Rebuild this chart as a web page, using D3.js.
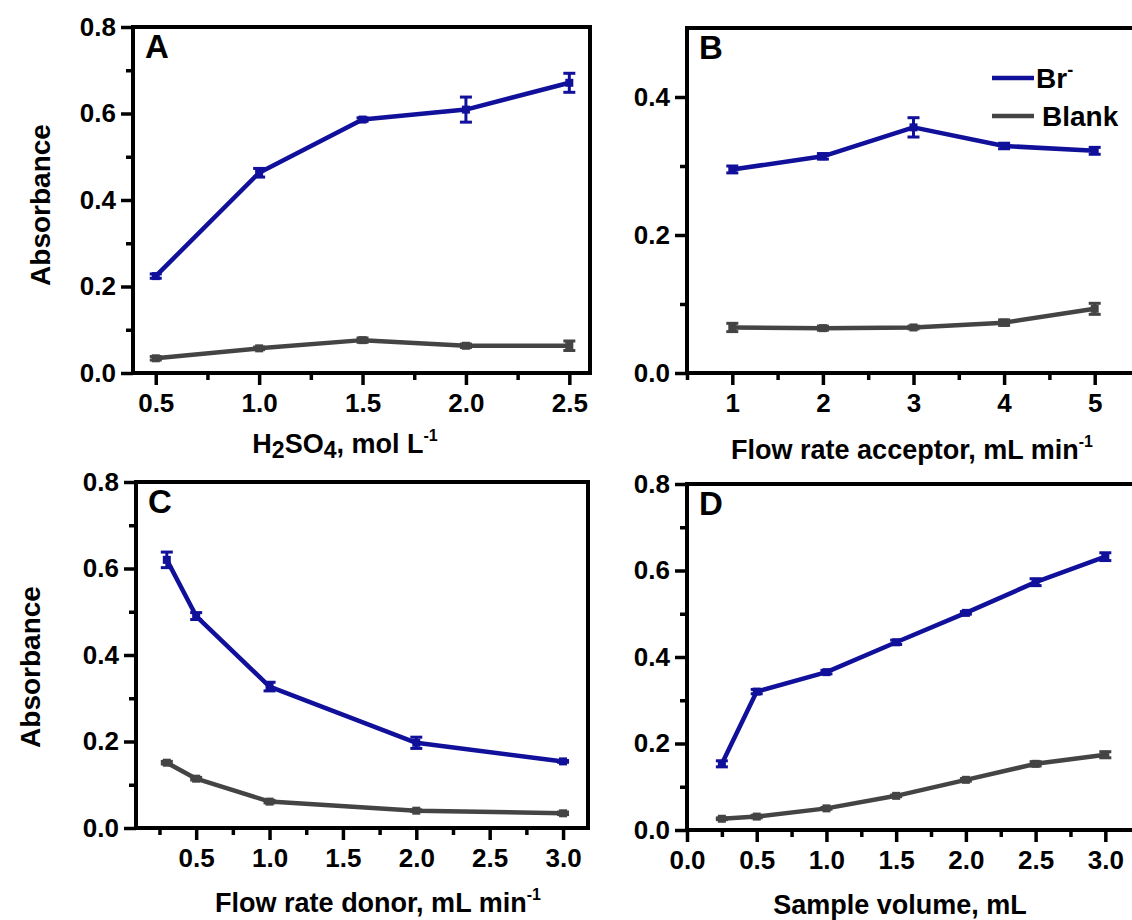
<!DOCTYPE html>
<html>
<head>
<meta charset="utf-8">
<script src="https://cdn.jsdelivr.net/npm/d3@7"></script>
<style>
  html, body { margin: 0; padding: 0; background: #fff; }
  svg { display: block; font-family: "Liberation Sans", Arial, sans-serif; font-weight: bold; }
  svg text { font-family: "Liberation Sans", Arial, sans-serif; font-weight: bold; }
</style>
</head>
<body>
<div id="chart"></div>
<script>
// ---- data ----
// A: H2SO4 concentration
const xA = [0.5, 1.0, 1.5, 2.0, 2.5];
const brA = [0.224, 0.463, 0.586, 0.609, 0.671];
const brAErr = [0.005, 0.010, 0.004, 0.029, 0.022];
const blankA = [0.034, 0.057, 0.076, 0.063, 0.063];
const blankAErr = [0.004, 0.003, 0.005, 0.004, 0.011];

// B: acceptor flow rate
const xB = [1, 2, 3, 4, 5];
const brB = [0.295, 0.314, 0.356, 0.329, 0.322];
const brBErr = [0.005, 0.004, 0.014, 0.004, 0.005];
const blankB = [0.066, 0.065, 0.066, 0.073, 0.093];
const blankBErr = [0.006, 0.003, 0.002, 0.004, 0.008];

// C: donor flow rate
const xC = [0.3, 0.5, 1.0, 2.0, 3.0];
const brC = [0.620, 0.490, 0.327, 0.197, 0.154];
const brCErr = [0.018, 0.008, 0.010, 0.013, 0.002];
const blankC = [0.151, 0.114, 0.061, 0.040, 0.034];
const blankCErr = [0.003, 0.003, 0.003, 0.002, 0.003];

// D: sample volume
const xD = [0.25, 0.5, 1.0, 1.5, 2.0, 2.5, 3.0];
const brD = [0.153, 0.320, 0.365, 0.434, 0.502, 0.573, 0.632];
const brDErr = [0.007, 0.005, 0.004, 0.005, 0.003, 0.008, 0.009];
const blankD = [0.026, 0.031, 0.050, 0.079, 0.116, 0.153, 0.174];
const blankDErr = [0.002, 0.003, 0.002, 0.002, 0.003, 0.005, 0.007];

const BLUE = '#10109a', GREY = '#444444';

const svg = d3.select('#chart').append('svg')
  .attr('width', 1132).attr('height', 920);

const panels = [
  { x0: 133, x1: 590, y0: 27, y1: 373, xd: [0.39, 2.6], yd: [0, 0.8],
    xMajor: [0.5, 1, 1.5, 2, 2.5], xMinor: [0.75, 1.25, 1.75, 2.25], xFmt: '.1f',
    yMajor: [0, 0.2, 0.4, 0.6, 0.8], yMinor: [0.1, 0.3, 0.5, 0.7],
    xs: xA, br: brA, brE: brAErr, bl: blankA, blE: blankAErr,
    title: 'A', ylab: { x: 40, y: 205 }, xlab: { x: 345, y: 453 } },
  { x0: 687, x1: 1140, y0: 28, y1: 373, xd: [0.5, 5.5], yd: [0, 0.5],
    xMajor: [1, 2, 3, 4, 5], xMinor: [0.5, 1.5, 2.5, 3.5, 4.5], xFmt: 'd',
    yMajor: [0, 0.2, 0.4], yMinor: [0.1, 0.3],
    xs: xB, br: brB, brE: brBErr, bl: blankB, blE: blankBErr,
    title: 'B', legend: true, xlab: { x: 912, y: 459 } },
  { x0: 136, x1: 588, y0: 482, y1: 828, xd: [0.09, 3.17], yd: [0, 0.8],
    xMajor: [0.5, 1, 1.5, 2, 2.5, 3], xMinor: [0.25, 0.75, 1.25, 1.75, 2.25, 2.75], xFmt: '.1f',
    yMajor: [0, 0.2, 0.4, 0.6, 0.8], yMinor: [0.1, 0.3, 0.5, 0.7],
    xs: xC, br: brC, brE: brCErr, bl: blankC, blE: blankCErr,
    title: 'C', ylab: { x: 30, y: 667 }, xlab: { x: 378, y: 912 } },
  { x0: 687, x1: 1136, y0: 484, y1: 830, xd: [0, 3.22], yd: [0, 0.8],
    xMajor: [0, 0.5, 1, 1.5, 2, 2.5, 3], xMinor: [0.25, 0.75, 1.25, 1.75, 2.25, 2.75], xFmt: '.1f',
    yMajor: [0, 0.2, 0.4, 0.6, 0.8], yMinor: [0.1, 0.3, 0.5, 0.7],
    xs: xD, br: brD, brE: brDErr, bl: blankD, blE: blankDErr,
    title: 'D', xlab: { x: 900, y: 914 } }
];

panels.forEach(p => {
  const x = d3.scaleLinear().domain(p.xd).range([p.x0, p.x1]);
  const y = d3.scaleLinear().domain(p.yd).range([p.y1, p.y0]);
  const g = svg.append('g');

  // axes: major + minor ticks, outward
  const styleAxis = sel => {
    sel.attr('font-family', null).attr('font-size', null);
    sel.select('.domain').remove();
    sel.selectAll('.tick line').attr('stroke', '#000').style('stroke-width', '3.5px');
    sel.selectAll('.tick text').attr('fill', '#000').style('font-size', '26px');
  };
  g.append('g').attr('transform', `translate(0,${p.y1})`)
    .call(d3.axisBottom(x).tickValues(p.xMajor).tickSize(12).tickPadding(9).tickFormat(d3.format(p.xFmt)))
    .call(styleAxis);
  g.append('g').attr('transform', `translate(0,${p.y1})`)
    .call(d3.axisBottom(x).tickValues(p.xMinor).tickSize(7).tickFormat(''))
    .call(styleAxis);
  g.append('g').attr('transform', `translate(${p.x0},0)`)
    .call(d3.axisLeft(y).tickValues(p.yMajor).tickSize(12).tickPadding(5).tickFormat(d3.format('.1f')))
    .call(styleAxis);
  g.append('g').attr('transform', `translate(${p.x0},0)`)
    .call(d3.axisLeft(y).tickValues(p.yMinor).tickSize(7).tickFormat(''))
    .call(styleAxis);

  // frame
  g.append('rect')
    .attr('x', p.x0).attr('y', p.y0)
    .attr('width', p.x1 - p.x0).attr('height', p.y1 - p.y0)
    .attr('fill', 'none').attr('stroke', '#000').attr('stroke-width', 4);

  // series
  const line = d3.line().x(d => x(d[0])).y(d => y(d[1]));
  [[p.bl, p.blE, GREY], [p.br, p.brE, BLUE]].forEach(([vals, errs, col]) => {
    const pts = p.xs.map((xv, i) => [xv, vals[i], errs[i]]);
    g.append('path').datum(pts)
      .attr('d', line).attr('fill', 'none')
      .attr('stroke', col).attr('stroke-width', 4.5).attr('stroke-linejoin', 'round');
    const eb = g.append('g').selectAll('g').data(pts).enter().append('g')
      .attr('stroke', col).attr('stroke-width', 3);
    eb.append('line')
      .attr('x1', d => x(d[0])).attr('x2', d => x(d[0]))
      .attr('y1', d => y(d[1] - d[2])).attr('y2', d => y(d[1] + d[2]));
    eb.append('line')
      .attr('x1', d => x(d[0]) - 6).attr('x2', d => x(d[0]) + 6)
      .attr('y1', d => y(d[1] + d[2])).attr('y2', d => y(d[1] + d[2]));
    eb.append('line')
      .attr('x1', d => x(d[0]) - 6).attr('x2', d => x(d[0]) + 6)
      .attr('y1', d => y(d[1] - d[2])).attr('y2', d => y(d[1] - d[2]));
    g.append('g').selectAll('rect').data(pts).enter().append('rect')
      .attr('x', d => x(d[0]) - 4).attr('y', d => y(d[1]) - 4)
      .attr('width', 8).attr('height', 8).attr('fill', col);
  });

  // panel letter
  g.append('text').attr('x', p.x0 + 12).attr('y', p.y0 + 31)
    .style('font-size', '33px').text(p.title);

  // y label
  if (p.ylab) {
    g.append('text')
      .attr('transform', `translate(${p.ylab.x},${p.ylab.y}) rotate(-90)`)
      .attr('text-anchor', 'middle').attr('dy', '0.35em')
      .style('font-size', '28px').text('Absorbance');
  }

  // legend
  if (p.legend) {
    const lg = g.append('g').attr('transform', 'translate(992,78)');
    [['Br', BLUE, 0], ['Blank', GREY, 38]].forEach(([lab, col, dy], i) => {
      lg.append('line').attr('x1', 0).attr('x2', 42).attr('y1', dy).attr('y2', dy)
        .attr('stroke', col).attr('stroke-width', 4.5);
      const t = lg.append('text').attr('x', i ? 50 : 44).attr('y', dy + 10)
        .style('font-size', '28px').text(lab);
      if (!i) t.append('tspan').attr('dy', -12).style('font-size', '18px').text('-');
    });
  }
});

// x-axis titles with sub/superscripts
const xt = (cx, cy) => svg.append('text').attr('x', cx).attr('y', cy)
  .attr('text-anchor', 'middle').style('font-size', '27px');

const tA = xt(panels[0].xlab.x, panels[0].xlab.y);
tA.append('tspan').text('H');
tA.append('tspan').attr('dy', 5).style('font-size', '23px').text('2');
tA.append('tspan').attr('dy', -5).text('SO');
tA.append('tspan').attr('dy', 5).style('font-size', '23px').text('4');
tA.append('tspan').attr('dy', -5).text(', mol L');
tA.append('tspan').attr('dy', -12).style('font-size', '16px').text('-1');

const tB = xt(panels[1].xlab.x, panels[1].xlab.y);
tB.append('tspan').text('Flow rate acceptor, mL min');
tB.append('tspan').attr('dy', -12).style('font-size', '16px').text('-1');

const tC = xt(panels[2].xlab.x, panels[2].xlab.y);
tC.append('tspan').text('Flow rate donor, mL min');
tC.append('tspan').attr('dy', -12).style('font-size', '16px').text('-1');

xt(panels[3].xlab.x, panels[3].xlab.y).text('Sample volume, mL');
</script>
</body>
</html>
